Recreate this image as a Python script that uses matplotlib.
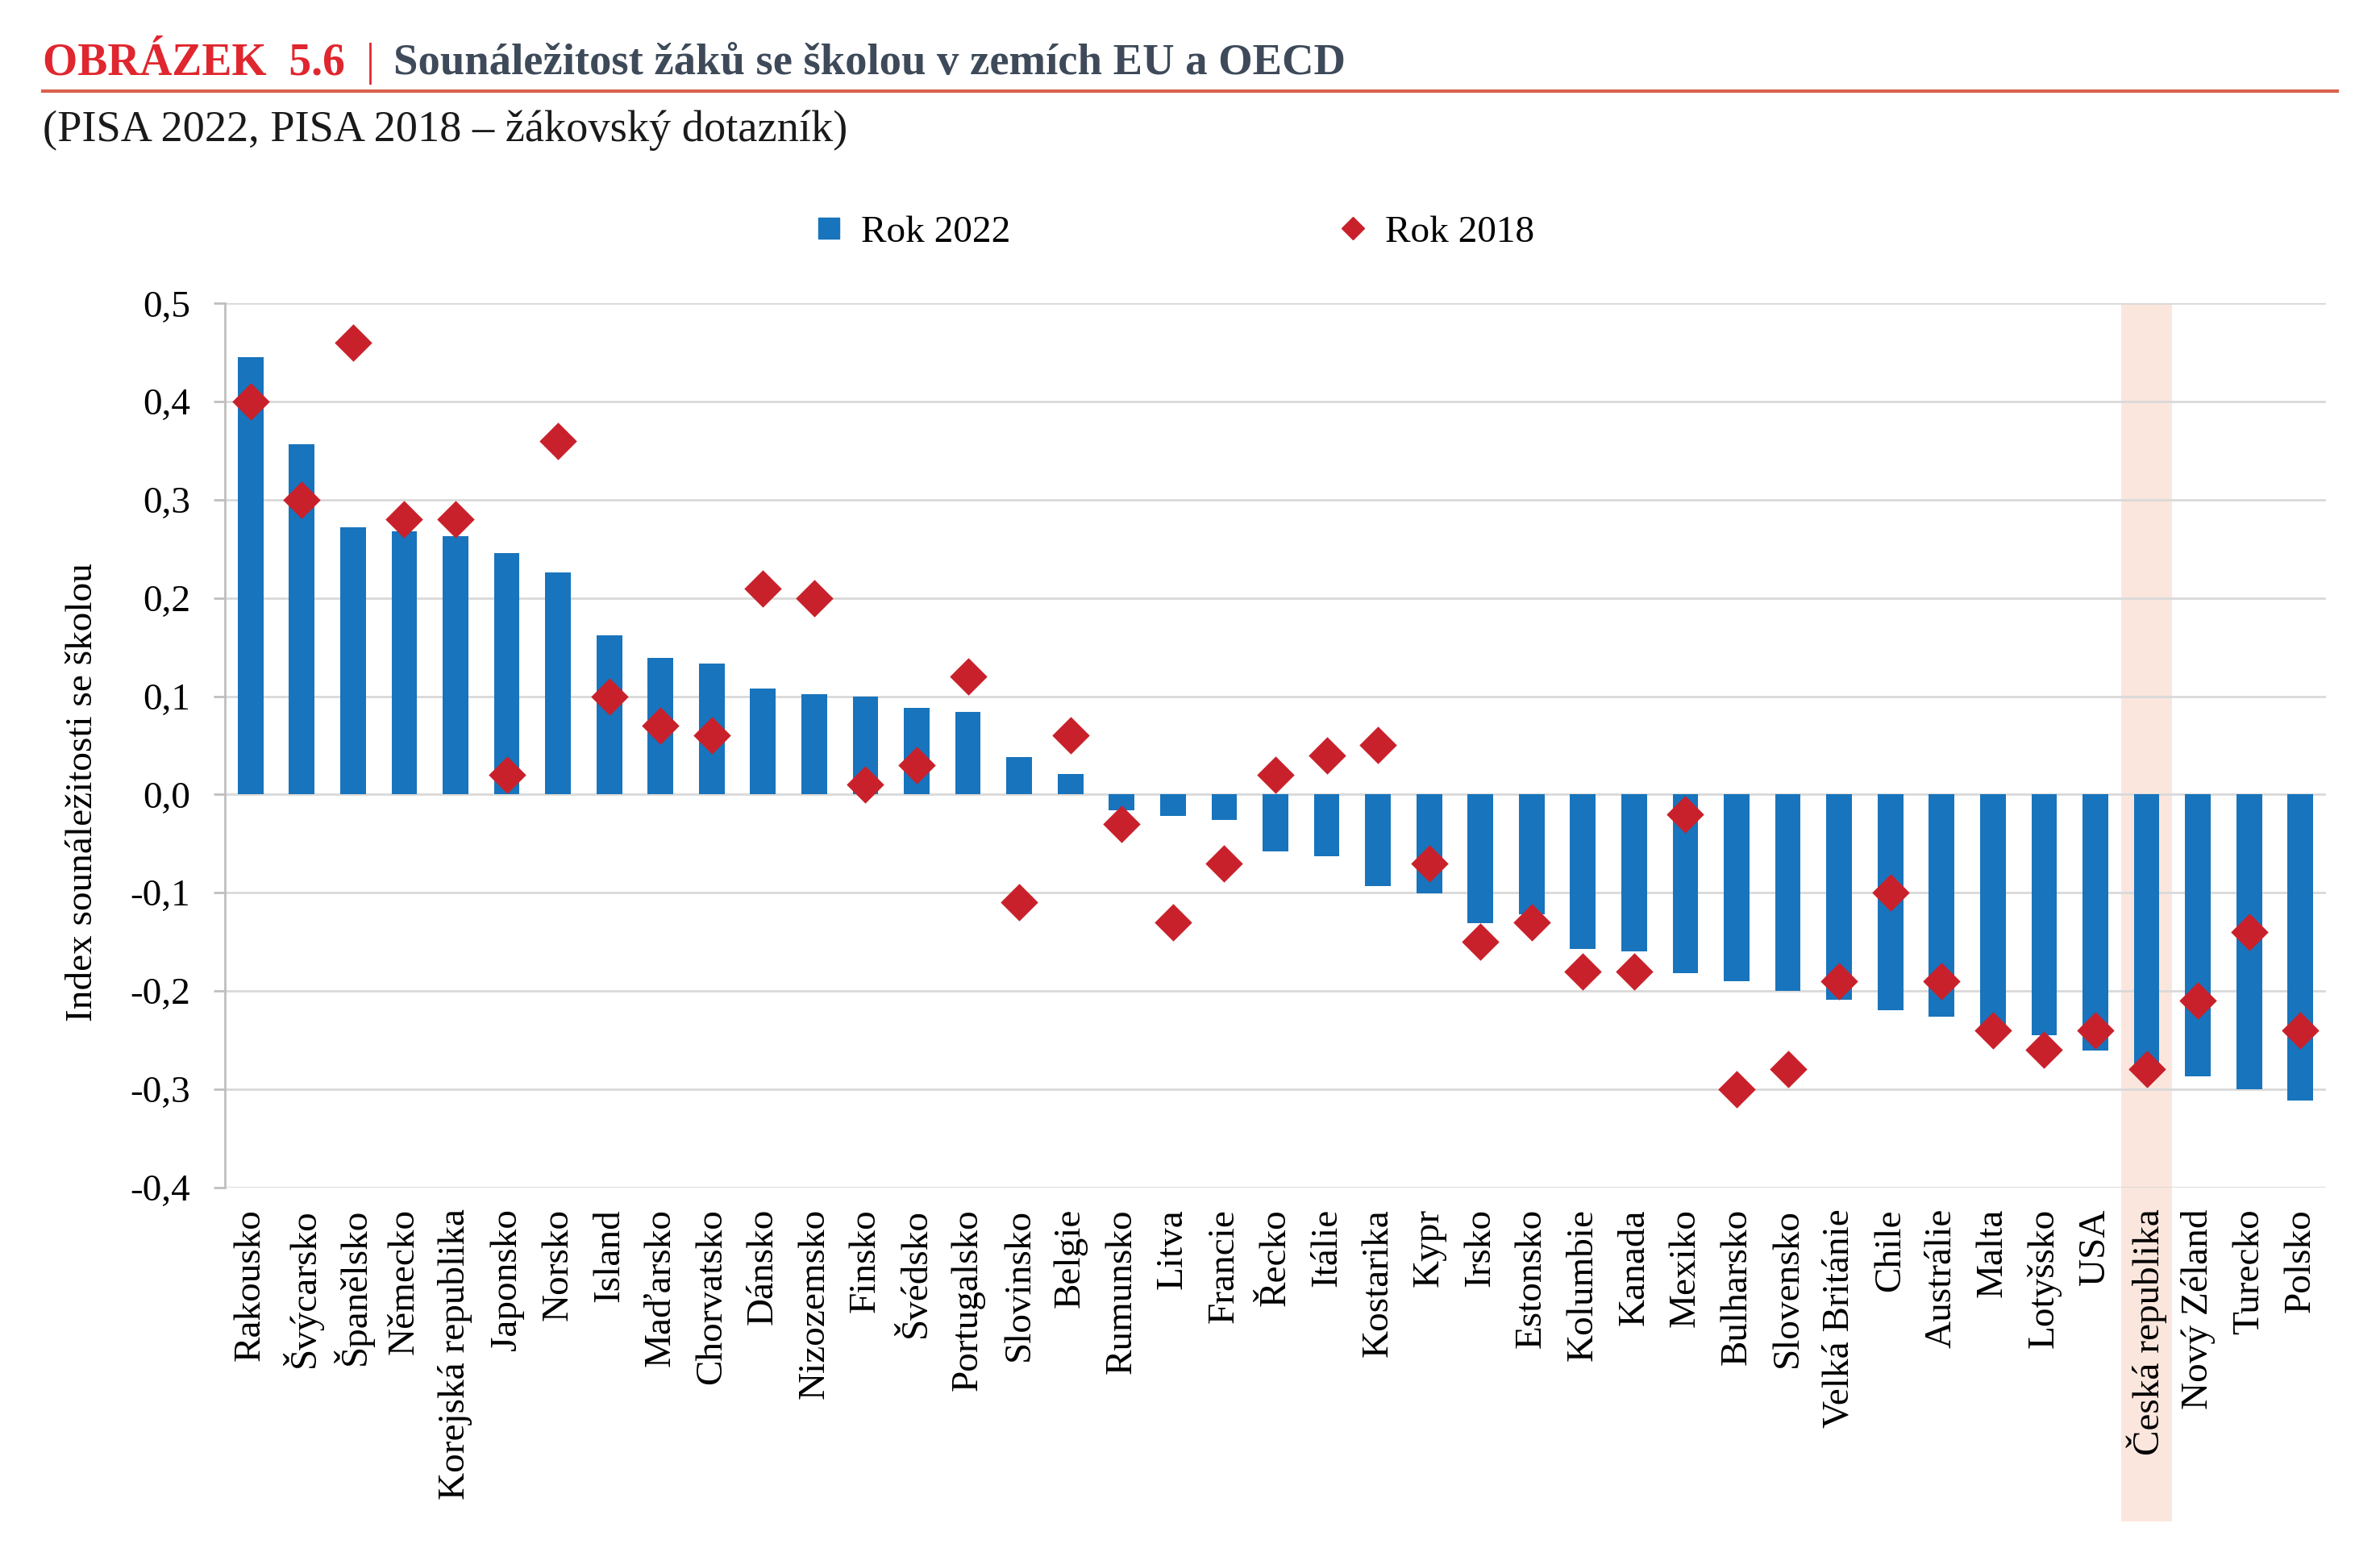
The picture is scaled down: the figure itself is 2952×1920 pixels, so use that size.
"""Sounáležitost žáků se školou v zemích EU a OECD (PISA 2022 vs 2018)."""

import matplotlib

matplotlib.use("Agg")
import matplotlib.pyplot as plt
import matplotlib.transforms as mtransforms
import numpy as np
from matplotlib.lines import Line2D
from matplotlib.patches import Rectangle

plt.rcParams["font.family"] = ["Liberation Serif", "DejaVu Serif"]

countries = [
    "Rakousko", "Švýcarsko", "Španělsko", "Německo", "Korejská republika",
    "Japonsko", "Norsko", "Island", "Maďarsko", "Chorvatsko", "Dánsko",
    "Nizozemsko", "Finsko", "Švédsko", "Portugalsko", "Slovinsko", "Belgie",
    "Rumunsko", "Litva", "Francie", "Řecko", "Itálie", "Kostarika", "Kypr",
    "Irsko", "Estonsko", "Kolumbie", "Kanada", "Mexiko", "Bulharsko",
    "Slovensko", "Velká Británie", "Chile", "Austrálie", "Malta", "Lotyšsko",
    "USA", "Česká republika", "Nový Zéland", "Turecko", "Polsko",
]
rok_2022 = [
    0.445, 0.357, 0.272, 0.268, 0.263, 0.246, 0.226, 0.162, 0.139, 0.133,
    0.108, 0.102, 0.100, 0.088, 0.084, 0.038, 0.021, -0.016, -0.022, -0.026,
    -0.058, -0.063, -0.093, -0.101, -0.131, -0.122, -0.157, -0.160, -0.182,
    -0.190, -0.200, -0.209, -0.220, -0.226, -0.240, -0.245, -0.261, -0.285,
    -0.287, -0.300, -0.312,
]
rok_2018 = [
    0.40, 0.30, 0.46, 0.28, 0.28, 0.02, 0.36, 0.10, 0.07, 0.06, 0.21, 0.20,
    0.01, 0.03, 0.12, -0.11, 0.06, -0.03, -0.13, -0.07, 0.02, 0.04, 0.05,
    -0.07, -0.15, -0.13, -0.18, -0.18, -0.02, -0.30, -0.28, -0.19, -0.10,
    -0.19, -0.24, -0.26, -0.24, -0.28, -0.21, -0.14, -0.24,
]
ytick_values = [0.5, 0.4, 0.3, 0.2, 0.1, 0.0, -0.1, -0.2, -0.3, -0.4]
ytick_labels = ["0,5", "0,4", "0,3", "0,2", "0,1", "0,0", "-0,1", "-0,2", "-0,3", "-0,4"]
highlight = "Česká republika"

BLUE = "#1874BC"
RED = "#C9212B"
GRID = "#D9D9D9"

fig = plt.figure(figsize=(29.52, 19.2), dpi=100)
ax = fig.add_axes([0.0945, 0.233, 0.8828, 0.571])

x = np.arange(len(countries))
ax.bar(x, rok_2022, width=0.5, color=BLUE, zorder=3)
ax.scatter(x, rok_2018, marker="D", s=560, color=RED, linewidths=0, zorder=4)

# highlighted column for the Czech Republic, reaching down into the labels
hx = countries.index(highlight)
trans = mtransforms.blended_transform_factory(ax.transData, ax.transAxes)
ax.add_patch(Rectangle((hx - 0.5, -0.378), 1.0, 1.378, transform=trans,
                       facecolor="#FBE6DD", edgecolor="none", clip_on=False, zorder=0.1))

ax.set_xlim(-0.5, len(countries) - 0.5)
ax.set_ylim(-0.4, 0.5)
ax.set_yticks(ytick_values)
ax.set_yticklabels(ytick_labels)
ax.set_xticks(x)
ax.set_xticklabels(countries, rotation=90, va="top", ha="center")
ax.yaxis.grid(True, color=GRID, linewidth=2)
ax.set_axisbelow(True)
for side in ["top", "right", "bottom"]:
    ax.spines[side].set_visible(False)
ax.spines["left"].set_color("#BFBFBF")
ax.spines["left"].set_linewidth(2)
ax.tick_params(axis="x", length=0, pad=19, labelsize=34)
ax.tick_params(axis="y", length=10, width=2, color="#BFBFBF", pad=21, labelsize=34)
ax.set_ylabel("Index sounáležitosti se školou", fontsize=34)
ax.yaxis.set_label_coords(-0.0595, 0.447)

handles = [
    Line2D([], [], marker="s", linestyle="none", color=BLUE, markersize=19),
    Line2D([], [], marker="D", linestyle="none", color=RED, markersize=14),
]
fig.legend(handles, ["Rok 2022", "Rok 2018"], loc="center", bbox_to_anchor=(0.4925, 0.85),
           ncol=2, frameon=False, fontsize=34, handlelength=1.0, handletextpad=0.35,
           columnspacing=8.5)

# heading
fig.text(0.018, 0.9589, "OBRÁZEK  5.6", color="#E0262E", fontsize=40, fontweight="bold", va="center")
fig.text(0.1538, 0.9589, "|", color="#E0262E", fontsize=40, va="center")
fig.text(0.1653, 0.9589, "Sounáležitost žáků se školou v zemích EU a OECD", color="#3E4A59",
         fontsize=39.3, fontweight="bold", va="center")
fig.add_artist(Line2D([0.018, 0.982], [1 - 113 / 1920] * 2, color="#D9614F", linewidth=3))
fig.text(0.018, 1 - 162 / 1920, "(PISA 2022, PISA 2018 – žákovský dotazník)", color="#1A1A1A",
         fontsize=39.2, va="center")

fig.savefig("out.png", dpi=100)
plt.close(fig)
